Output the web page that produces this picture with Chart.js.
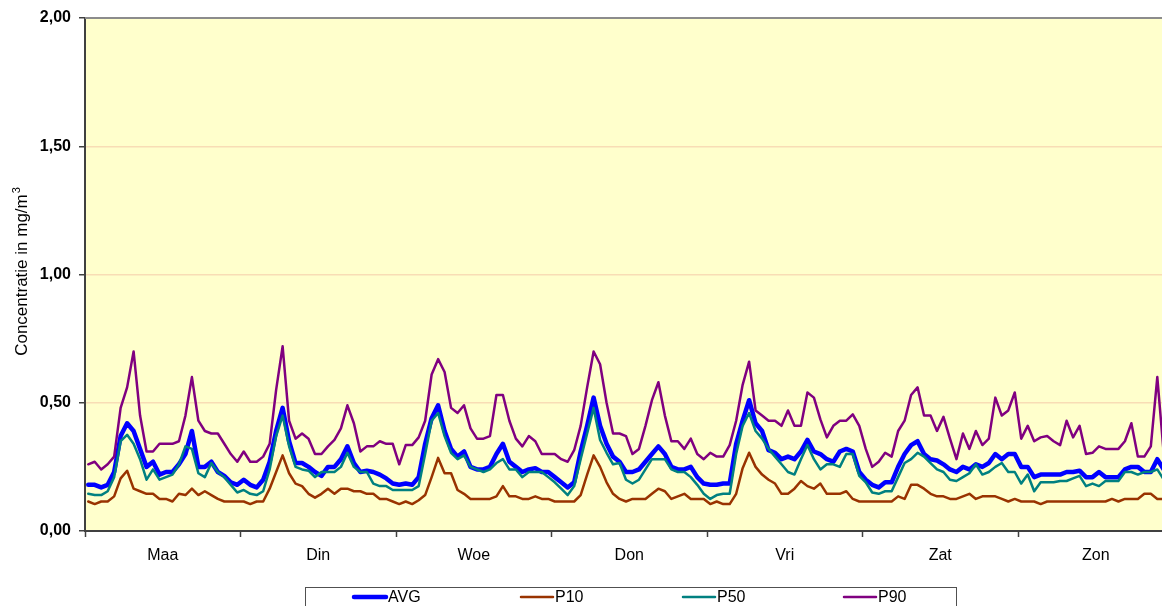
<!DOCTYPE html>
<html>
<head>
<meta charset="utf-8">
<script src="https://cdn.jsdelivr.net/npm/chart.js@4.4.1/dist/chart.umd.min.js"></script>
<style>
  html, body { margin: 0; padding: 0; background: #ffffff; overflow: hidden; width: 1162px; height: 606px; }
  canvas { display: block; }
</style>
</head>
<body>
<canvas id="c" width="1190" height="606"></canvas>
<script>
const days = ["Maa", "Din", "Woe", "Don", "Vri", "Zat", "Zon"];
const yTicks = [0, 0.5, 1.0, 1.5, 2.0];
const yTitle = "Concentratie in mg/m";
const yTitleSup = "3";
const seriesNames = ["AVG", "P10", "P50", "P90"];

const avg = [
  0.18,0.18,0.17,0.18,0.23,0.37,0.42,0.39,0.32,0.25,0.27,0.22,0.23,0.23,0.26,0.30,0.39,0.25,0.25,0.27,0.23,0.215,0.19,0.18,
  0.20,0.18,0.17,0.20,0.27,0.39,0.48,0.35,0.265,0.265,0.25,0.23,0.215,0.25,0.25,0.28,0.33,0.265,0.23,0.235,0.23,0.22,0.205,0.185,
  0.18,0.185,0.18,0.21,0.34,0.44,0.49,0.39,0.32,0.29,0.31,0.25,0.24,0.24,0.25,0.30,0.34,0.27,0.25,0.23,0.24,0.245,0.23,0.23,
  0.21,0.19,0.17,0.19,0.31,0.41,0.52,0.41,0.34,0.29,0.27,0.23,0.23,0.24,0.27,0.30,0.33,0.30,0.25,0.24,0.24,0.25,0.21,0.185,
  0.18,0.18,0.185,0.185,0.34,0.43,0.51,0.42,0.39,0.315,0.305,0.28,0.29,0.28,0.31,0.355,0.31,0.30,0.28,0.27,0.31,0.32,0.31,0.23,
  0.20,0.18,0.17,0.19,0.19,0.25,0.30,0.335,0.35,0.30,0.28,0.275,0.26,0.24,0.23,0.25,0.24,0.26,0.25,0.265,0.30,0.28,0.30,0.30,
  0.25,0.25,0.21,0.22,0.22,0.22,0.22,0.23,0.23,0.235,0.21,0.21,0.23,0.21,0.21,0.21,0.24,0.25,0.25,0.23,0.23,0.28,0.24,0.22
];
const p10 = [
  0.115,0.105,0.115,0.115,0.135,0.205,0.235,0.165,0.155,0.145,0.145,0.125,0.125,0.115,0.145,0.14,0.165,0.14,0.155,0.14,0.125,0.115,0.115,0.115,
  0.115,0.105,0.115,0.115,0.165,0.23,0.295,0.225,0.185,0.175,0.145,0.13,0.145,0.165,0.145,0.165,0.165,0.155,0.155,0.145,0.145,0.125,0.125,0.115,
  0.105,0.115,0.105,0.12,0.14,0.21,0.285,0.225,0.225,0.16,0.145,0.125,0.125,0.125,0.125,0.135,0.175,0.135,0.135,0.125,0.125,0.135,0.125,0.125,
  0.115,0.115,0.115,0.115,0.14,0.22,0.295,0.25,0.19,0.145,0.125,0.115,0.125,0.125,0.125,0.145,0.165,0.155,0.125,0.135,0.145,0.125,0.125,0.125,
  0.105,0.115,0.105,0.105,0.145,0.245,0.305,0.25,0.22,0.20,0.185,0.145,0.145,0.165,0.195,0.175,0.165,0.185,0.145,0.145,0.145,0.155,0.125,0.115,
  0.115,0.115,0.115,0.115,0.115,0.135,0.125,0.18,0.18,0.165,0.145,0.135,0.135,0.125,0.125,0.135,0.145,0.125,0.135,0.135,0.135,0.125,0.115,0.125,
  0.115,0.115,0.115,0.105,0.115,0.115,0.115,0.115,0.115,0.115,0.115,0.115,0.115,0.115,0.125,0.115,0.125,0.125,0.125,0.145,0.145,0.125,0.125,0.125
];
const p50 = [
  0.145,0.14,0.14,0.155,0.21,0.35,0.375,0.34,0.28,0.20,0.24,0.20,0.21,0.22,0.26,0.33,0.32,0.225,0.21,0.265,0.23,0.21,0.18,0.15,
  0.16,0.145,0.14,0.155,0.24,0.37,0.45,0.33,0.25,0.24,0.235,0.21,0.23,0.23,0.23,0.25,0.305,0.25,0.23,0.23,0.185,0.175,0.175,0.16,
  0.16,0.16,0.16,0.175,0.30,0.43,0.46,0.37,0.305,0.28,0.295,0.25,0.24,0.23,0.24,0.265,0.28,0.24,0.24,0.21,0.23,0.23,0.23,0.21,
  0.19,0.165,0.14,0.175,0.28,0.38,0.48,0.355,0.305,0.26,0.265,0.20,0.185,0.20,0.24,0.28,0.28,0.28,0.24,0.23,0.23,0.21,0.18,0.145,
  0.125,0.14,0.145,0.145,0.30,0.41,0.46,0.39,0.36,0.32,0.29,0.26,0.23,0.22,0.28,0.335,0.28,0.24,0.26,0.26,0.25,0.30,0.30,0.215,
  0.19,0.15,0.145,0.155,0.155,0.21,0.265,0.28,0.305,0.29,0.265,0.24,0.23,0.20,0.195,0.21,0.225,0.26,0.22,0.23,0.25,0.265,0.23,0.23,
  0.185,0.22,0.155,0.19,0.19,0.19,0.195,0.195,0.205,0.215,0.175,0.185,0.175,0.195,0.195,0.195,0.23,0.23,0.22,0.23,0.23,0.24,0.20,0.20
];
const p90 = [
  0.26,0.27,0.24,0.26,0.29,0.48,0.56,0.70,0.45,0.31,0.31,0.34,0.34,0.34,0.35,0.45,0.60,0.43,0.39,0.38,0.38,0.34,0.30,0.27,
  0.31,0.27,0.27,0.29,0.34,0.55,0.72,0.43,0.36,0.38,0.36,0.30,0.30,0.33,0.355,0.40,0.49,0.42,0.31,0.33,0.33,0.35,0.34,0.34,
  0.26,0.335,0.335,0.365,0.43,0.61,0.67,0.62,0.48,0.46,0.49,0.40,0.36,0.36,0.37,0.53,0.53,0.43,0.36,0.33,0.37,0.35,0.30,0.30,
  0.30,0.28,0.27,0.315,0.41,0.56,0.70,0.65,0.50,0.38,0.38,0.37,0.30,0.32,0.41,0.51,0.58,0.45,0.35,0.35,0.32,0.36,0.30,0.28,
  0.305,0.29,0.29,0.335,0.43,0.57,0.66,0.47,0.45,0.43,0.43,0.41,0.47,0.41,0.41,0.54,0.52,0.435,0.365,0.41,0.43,0.43,0.455,0.41,
  0.32,0.25,0.27,0.305,0.29,0.39,0.43,0.53,0.56,0.45,0.45,0.39,0.445,0.36,0.28,0.38,0.32,0.39,0.335,0.36,0.52,0.45,0.47,0.54,
  0.36,0.41,0.35,0.365,0.37,0.35,0.335,0.43,0.365,0.41,0.30,0.305,0.33,0.32,0.32,0.32,0.35,0.42,0.29,0.29,0.33,0.60,0.30,0.30
];

const hoursPerDay = 24;
const nPoints = days.length * hoursPerDay;
const toXY = arr => arr.map((v, i) => ({ x: i + 0.5, y: v }));
const fmt = v => v.toFixed(2).replace('.', ',');
const FONT = "'Liberation Sans', Arial, sans-serif";

const plotBg = {
  id: 'plotBg',
  beforeDraw(chart) {
    const { ctx, chartArea: a } = chart;
    ctx.save();
    ctx.fillStyle = '#FFFFCC';
    ctx.fillRect(a.left, a.top, a.right - a.left, a.bottom - a.top);
    ctx.restore();
  },
  beforeDatasetsDraw(chart) {
    const { ctx, chartArea: a } = chart;
    ctx.save();
    ctx.strokeStyle = '#8c8c8c';
    ctx.lineWidth = 2;
    ctx.beginPath();
    ctx.moveTo(a.left, a.top);
    ctx.lineTo(a.right + 2, a.top);
    ctx.stroke();
    ctx.restore();
  }
};

const yTitlePlugin = {
  id: 'yTitle',
  afterDraw(chart) {
    const { ctx } = chart;
    ctx.save();
    ctx.translate(27, 272);
    ctx.rotate(-Math.PI / 2);
    ctx.fillStyle = '#000';
    ctx.textBaseline = 'alphabetic';
    ctx.font = '17px ' + FONT;
    const w1 = ctx.measureText(yTitle).width;
    ctx.font = '11px ' + FONT;
    const w2 = ctx.measureText(yTitleSup).width;
    const start = -(w1 + w2) / 2;
    ctx.font = '17px ' + FONT;
    ctx.textAlign = 'left';
    ctx.fillText(yTitle, start, 0);
    ctx.font = '11px ' + FONT;
    ctx.fillText(yTitleSup, start + w1 + 1, -7);
    ctx.restore();
  }
};

const legendPlugin = {
  id: 'boxLegend',
  afterDraw(chart) {
    const { ctx } = chart;
    const xs = [354, 521, 683, 844];
    const yMid = 597;
    ctx.save();
    ctx.fillStyle = '#ffffff';
    ctx.fillRect(305.5, 587.5, 651, 40);
    ctx.strokeStyle = '#505050';
    ctx.lineWidth = 1;
    ctx.strokeRect(305.5, 587.5, 651, 40);
    chart.data.datasets.forEach((ds, i) => {
      ctx.strokeStyle = ds.borderColor;
      ctx.lineWidth = ds.borderWidth;
      ctx.lineCap = 'round';
      ctx.beginPath();
      ctx.moveTo(xs[i], yMid);
      ctx.lineTo(xs[i] + 32, yMid);
      ctx.stroke();
      ctx.fillStyle = '#000';
      ctx.font = '16px ' + FONT;
      ctx.textAlign = 'left';
      ctx.textBaseline = 'middle';
      ctx.fillText(ds.label, xs[i] + 34, yMid + 1);
    });
    ctx.restore();
  }
};

const mk = (label, arr, color, width, order) => ({
  label, data: toXY(arr), borderColor: color, backgroundColor: color,
  borderWidth: width, pointRadius: 0, tension: 0, fill: false, order,
  borderJoinStyle: 'round', borderCapStyle: 'round'
});

new Chart(document.getElementById('c'), {
  type: 'line',
  data: {
    datasets: [
      mk(seriesNames[0], avg, '#0000FF', 4.5, 4),
      mk(seriesNames[1], p10, '#993300', 2.5, 3),
      mk(seriesNames[2], p50, '#008080', 2.5, 2),
      mk(seriesNames[3], p90, '#800080', 2.5, 1)
    ]
  },
  options: {
    responsive: false,
    animation: false,
    layout: { padding: { left: 0, top: 18, right: 16.5, bottom: 0 } },
    plugins: { legend: { display: false }, tooltip: { enabled: false }, title: { display: false } },
    scales: {
      x: {
        type: 'linear',
        min: 0,
        max: nPoints,
        afterFit(s) { s.height = 75; },
        afterBuildTicks(s) {
          const t = [];
          for (let v = 0; v <= nPoints; v += hoursPerDay / 2) t.push({ value: v });
          s.ticks = t;
        },
        ticks: {
          autoSkip: false,
          maxRotation: 0,
          padding: 9,
          color: '#000',
          font: { family: FONT, size: 16 },
          callback: v => (v % hoursPerDay === hoursPerDay / 2) ? days[(v - hoursPerDay / 2) / hoursPerDay] : ''
        },
        grid: {
          drawOnChartArea: false,
          drawTicks: true,
          tickLength: 6,
          tickWidth: 1.5,
          tickColor: c => (c.tick && c.tick.value % hoursPerDay === 0) ? '#404040' : 'rgba(0,0,0,0)'
        },
        border: { display: true, color: '#404040', width: 2 }
      },
      y: {
        min: yTicks[0],
        max: yTicks[yTicks.length - 1],
        afterFit(s) { s.width = 85; },
        afterBuildTicks(s) { s.ticks = yTicks.map(v => ({ value: v })); },
        ticks: {
          padding: 8,
          color: '#000',
          font: { family: FONT, size: 16, weight: 'bold' },
          callback: v => fmt(v)
        },
        grid: {
          drawTicks: true,
          tickLength: 6,
          tickWidth: 1.5,
          tickColor: '#404040',
          lineWidth: 1.5,
          color: c => (c.tick && (c.tick.value === yTicks[0] || c.tick.value === yTicks[yTicks.length - 1])) ? 'rgba(0,0,0,0)' : '#F8DDB5'
        },
        border: { display: true, color: '#404040', width: 2 }
      }
    }
  },
  plugins: [plotBg, yTitlePlugin, legendPlugin]
});
</script>
</body>
</html>
